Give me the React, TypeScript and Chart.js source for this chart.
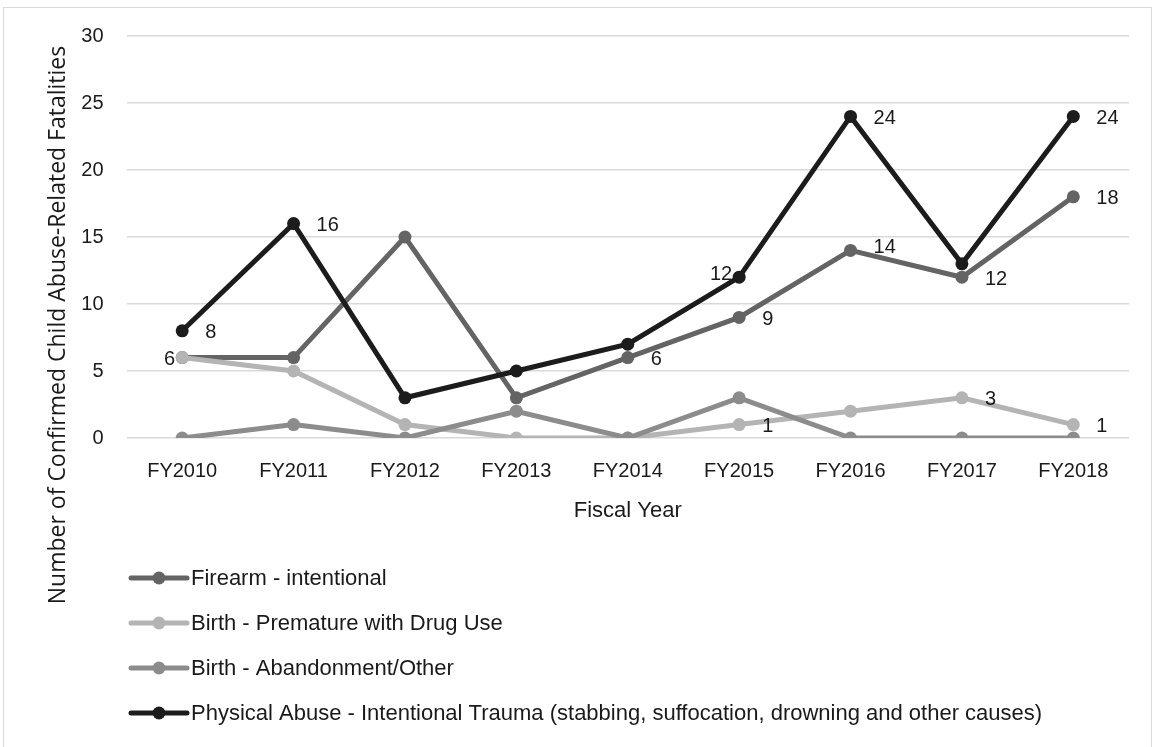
import React, { useEffect, useRef } from "react";
import { Chart, registerables } from "chart.js";

Chart.register(...registerables);

const categories = ["FY2010", "FY2011", "FY2012", "FY2013", "FY2014", "FY2015", "FY2016", "FY2017", "FY2018"];
const seriesNames = [
  "Firearm - intentional",
  "Birth - Premature with Drug Use",
  "Birth - Abandonment/Other",
  "Physical Abuse - Intentional Trauma (stabbing, suffocation, drowning and other causes)",
];
const firearm = [6, 6, 15, 3, 6, 9, 14, 12, 18];
const prematureDrug = [6, 5, 1, 0, 0, 1, 2, 3, 1];
const abandonment = [0, 1, 0, 2, 0, 3, 0, 0, 0];
const physicalAbuse = [8, 16, 3, 5, 7, 12, 24, 13, 24];
const seriesColors = ["#646464", "#b4b4b4", "#8c8c8c", "#1c1c1c"];
const yTickValues = [0, 5, 10, 15, 20, 25, 30];
const yAxisTitle = "Number of Confirmed Child Abuse-Related Fatalities";
const xAxisTitle = "Fiscal Year";

// [dataset index, point index, side]
const dataLabelSpecs: [number, number, string][] = [
  [3, 0, "right"], [3, 1, "right"], [3, 5, "leftUp"], [3, 6, "right"], [3, 8, "right"],
  [0, 0, "left"], [0, 4, "right"], [0, 5, "right"], [0, 6, "rightUp"], [0, 7, "right"], [0, 8, "right"],
  [1, 5, "right"], [1, 7, "right"], [1, 8, "right"],
];

const TICK_FONT = "'Liberation Sans', Arial, sans-serif";
const TITLE_FONT = "'Open Sans', sans-serif";
const TEXT = "#1a1a1a";

const extras = {
  id: "extras",
  beforeDraw(chart: any) {
    const ctx = chart.ctx;
    ctx.save();
    ctx.strokeStyle = "#d9d9d9";
    ctx.lineWidth = 1;
    ctx.strokeRect(3.5, 7.5, 1148, 800);
    ctx.restore();
  },
  afterDraw(chart: any) {
    const ctx = chart.ctx;
    const area = chart.chartArea;
    ctx.save();
    // data labels
    ctx.font = `20px ${TICK_FONT}`;
    ctx.fillStyle = TEXT;
    ctx.textBaseline = "middle";
    for (const [di, pi, side] of dataLabelSpecs) {
      const meta = chart.getDatasetMeta(di);
      const pt = meta.data[pi];
      const val = String(chart.data.datasets[di].data[pi]);
      let dy = 2;
      if (side.endsWith("Up")) dy = -3;
      if (side.startsWith("right")) {
        ctx.textAlign = "left";
        ctx.fillText(val, pt.x + 23, pt.y + dy);
      } else {
        ctx.textAlign = "right";
        ctx.fillText(val, pt.x - 7, pt.y + dy);
      }
    }
    // x title
    ctx.font = `22px ${TICK_FONT}`;
    ctx.textAlign = "center";
    ctx.fillText(xAxisTitle, (area.left + area.right) / 2, 511);
    // y title
    ctx.save();
    ctx.translate(65, 325);
    ctx.rotate(-Math.PI / 2);
    ctx.font = `23px ${TITLE_FONT}`;
    ctx.textAlign = "center";
    ctx.textBaseline = "alphabetic";
    ctx.fillText(yAxisTitle, 0, 0);
    ctx.restore();
    // legend
    const rows = [578, 623, 668, 713];
    chart.data.datasets.forEach((ds: any, i: number) => {
      const y = rows[i];
      const x0 = 131;
      ctx.strokeStyle = ds.borderColor;
      ctx.lineWidth = 5;
      ctx.lineCap = "round";
      ctx.beginPath();
      ctx.moveTo(x0, y);
      ctx.lineTo(x0 + 56, y);
      ctx.stroke();
      ctx.fillStyle = ds.borderColor;
      ctx.beginPath();
      ctx.arc(x0 + 28, y, 6.5, 0, Math.PI * 2);
      ctx.fill();
      ctx.fillStyle = TEXT;
      ctx.font = `22px ${TICK_FONT}`;
      ctx.textAlign = "left";
      ctx.textBaseline = "middle";
      ctx.fillText(ds.label, x0 + 60, y + 1);
    });
    ctx.restore();
  },
};

export default function App() {
  const ref = useRef<HTMLCanvasElement>(null);
  useEffect(() => {
    if (!ref.current) return;
    const values = [firearm, prematureDrug, abandonment, physicalAbuse];
    const chart = new Chart(ref.current, {
      type: "line",
      data: {
        labels: categories,
        datasets: values.map((v, i) => ({
          label: seriesNames[i],
          data: v,
          borderColor: seriesColors[i],
          backgroundColor: seriesColors[i],
          pointBackgroundColor: seriesColors[i],
          pointBorderColor: seriesColors[i],
          borderWidth: 5,
          pointRadius: 6.5,
          pointBorderWidth: 0,
          tension: 0,
          order: 3 - i,
        })),
      },
      options: {
        responsive: false,
        animation: false,
        events: [],
        layout: { padding: { left: 0, top: 36, right: 24, bottom: 0 } },
        plugins: { legend: { display: false }, tooltip: { enabled: false } },
        scales: {
          x: {
            offset: true,
            grid: { display: false, drawTicks: false },
            border: { display: false },
            ticks: { color: TEXT, font: { family: TICK_FONT, size: 20 }, padding: 21, maxRotation: 0 },
            afterFit: (s: any) => { s.height = 309; },
          },
          y: {
            min: 0,
            max: 30,
            afterBuildTicks: (s: any) => { s.ticks = yTickValues.map((v) => ({ value: v })); },
            grid: { color: "#d9d9d9", lineWidth: 1.5, drawTicks: false },
            border: { display: false },
            ticks: { color: TEXT, font: { family: TICK_FONT, size: 20 }, padding: 23 },
            afterFit: (s: any) => { s.width = 126.5; },
          },
        },
      },
      plugins: [extras],
    });
    return () => chart.destroy();
  }, []);
  return (
    <div style={{ position: "fixed", left: 0, top: 0, width: 1153, height: 747, background: "#fff" }}>
      <canvas ref={ref} width={1153} height={747} />
    </div>
  );
}
